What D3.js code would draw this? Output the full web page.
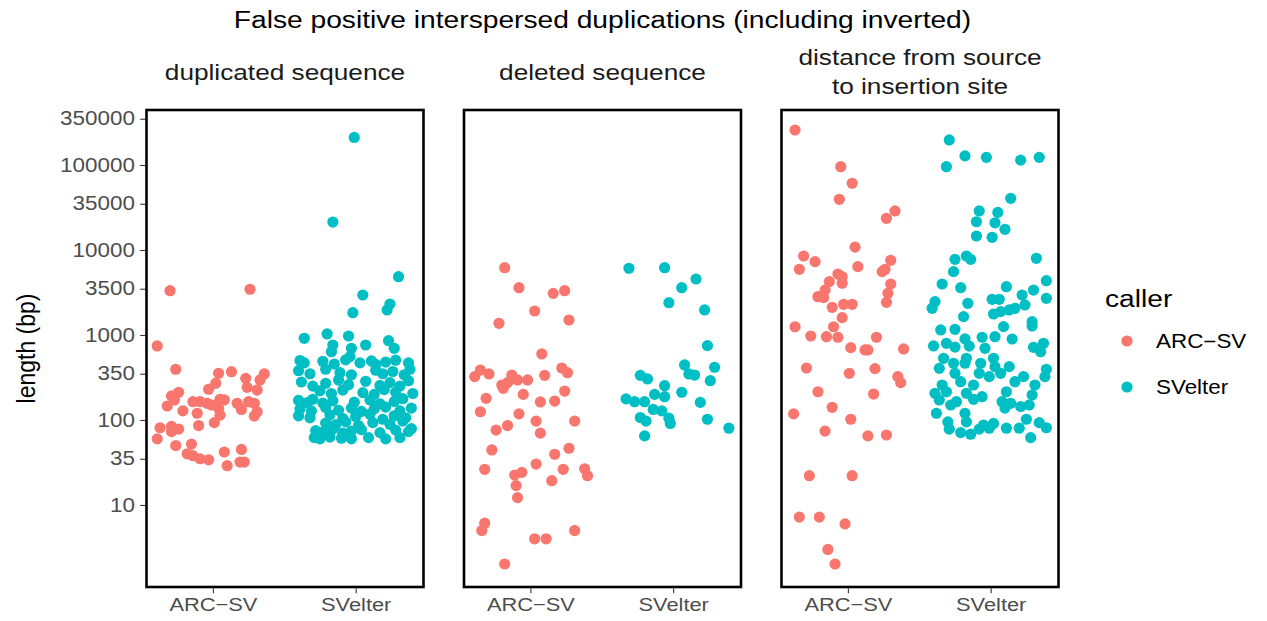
<!DOCTYPE html>
<html><head><meta charset="utf-8">
<script src="https://cdn.jsdelivr.net/npm/d3@7"></script>
<style>body{margin:0;background:#fff}</style>
</head><body><svg id="c" width="1267" height="621"></svg>
<script>
const title = "False positive interspersed duplications (including inverted)";
const facetLabels = [["duplicated sequence"], ["deleted sequence"], ["distance from source", "to insertion site"]];
const callers = ["ARC−SV", "SVelter"];
const colors = ["#F8766D", "#00BFC4"];
const yTicks = [10, 35, 100, 350, 1000, 3500, 10000, 35000, 100000, 350000];
const yTitle = "length (bp)";
const legendTitle = "caller";

// [jitter offset (category units), length in bp]
const dupARC = [[-0.30,3320],[0.26,3450],[-0.39,743],[-0.26,395],[0.04,354],[0.13,370],[0.23,309],[0.36,348],[0.33,296],[0.02,270],[-0.03,230],[0.24,242],[0.31,225],[-0.24,212],[-0.29,192],[-0.27,172],[-0.32,146],[-0.21,128],[-0.14,164],[-0.09,164],[-0.04,157],[-0.01,150],[0.05,175],[0.08,172],[0.04,137],[0.05,114],[-0.11,120],[0.01,93],[-0.10,86],[0.17,157],[0.20,133],[0.25,164],[0.29,157],[0.31,125],[0.29,111],[-0.37,81],[-0.39,60],[-0.29,84],[-0.29,73],[-0.24,78],[-0.26,50],[-0.15,52],[-0.18,40],[-0.14,38],[-0.09,35],[-0.03,34],[0.08,42],[0.20,45],[0.10,29],[0.19,32],[0.22,32]];
const dupSV = [[-0.01,211000],[-0.16,21300],[0.30,4850],[0.05,2955],[0.24,2315],[0.22,1970],[-0.02,1830],[-0.36,914],[-0.20,1028],[-0.05,973],[0.07,762],[0.23,857],[0.27,697],[-0.16,762],[-0.17,636],[-0.03,697],[-0.04,556],
[-0.39,500],[-0.36,470],[-0.23,490],[-0.15,455],[-0.07,510],[0.03,470],[0.11,495],[0.14,450],[0.21,480],[0.28,505],[0.37,470],
[-0.40,380],[-0.32,350],[-0.21,395],[-0.11,360],[-0.03,340],[0.14,385],[0.19,350],[0.26,372],[0.34,340],[0.38,395],
[-0.38,280],[-0.30,250],[-0.21,270],[-0.12,295],[-0.05,260],[0.07,285],[0.17,255],[0.24,275],[0.31,250],[0.37,290],
[-0.25,220],[-0.17,205],[-0.09,225],[0.05,210],[0.13,200],[0.20,228],[0.28,212],[0.40,205],
[-0.40,170],[-0.34,160],[-0.30,175],[-0.23,158],[-0.16,168],[-0.01,162],[0.10,172],[0.17,155],[0.27,165],[0.33,178],
[-0.39,135],[-0.31,128],[-0.21,140],[-0.12,130],[-0.03,138],[0.04,126],[0.13,135],[0.21,142],[0.31,128],[0.39,138],
[-0.40,112],[-0.32,106],[-0.18,115],[-0.09,104],[0.00,110],[0.10,117],[0.19,102],[0.27,112],[0.35,106],
[-0.21,92],[-0.14,88],[-0.07,95],[0.02,86],[0.12,93],[0.24,89],[0.33,97],
[-0.28,75],[-0.23,72],[-0.16,78],[-0.09,70],[-0.03,74],[0.04,77],[0.17,71],[0.28,76],[0.37,73],[0.39,79],
[-0.29,62],[-0.25,60],[-0.18,63],[-0.10,61],[-0.03,60],[0.09,62],[0.21,60],[0.31,62]];
const delARC = [[-0.18,6190],[-0.08,3600],[0.16,3090],[0.24,3320],[0.03,1915],[-0.22,1372],[0.27,1500],[0.08,598],[-0.35,387],[-0.39,324],[-0.29,348],[-0.13,338],[-0.09,296],[-0.20,258],[-0.16,275],[-0.19,236],[-0.02,296],[0.10,335],[0.22,409],[0.26,360],[0.24,219],[-0.05,200],[-0.31,180],[0.07,163],[0.17,167],[-0.35,125],[-0.08,118],[0.04,97],[0.31,97],[-0.16,86],[-0.24,76],[0.07,70],[-0.27,44.4],[0.27,46.5],[0.17,39.5],[-0.32,26.3],[0.04,30.3],[0.23,26.3],[0.38,26.7],[0.40,22.1],[-0.11,22.5],[-0.06,24.2],[-0.10,16.9],[-0.09,12.2],[0.15,19.3],[-0.32,6.1],[-0.34,5.0],[0.03,4.0],[0.11,4.0],[0.31,5.0],[-0.18,2.02]];
const delSV = [[-0.31,6090],[-0.06,6190],[0.16,4560],[0.06,3600],[-0.03,2400],[0.22,1970],[0.24,750],[0.08,444],[0.29,417],[0.11,348],[0.15,338],[0.26,290],[-0.23,335],[-0.18,304],[-0.06,253],[-0.13,200],[-0.06,188],[0.06,212],[-0.33,177],[-0.27,164],[-0.20,164],[0.19,161],[-0.14,133],[-0.08,128],[-0.23,107],[-0.19,97],[-0.03,105],[-0.02,91],[0.24,102],[0.39,80],[-0.20,65]];
const distARC = [[-0.37,258000],[-0.05,95500],[0.03,61000],[-0.06,39500],[0.33,28800],[0.27,23600],[0.05,10800],[-0.31,8500],[-0.23,7290],[-0.34,5930],[0.07,6370],[0.30,7560],[0.26,5930],[0.24,5560],[-0.07,5220],[-0.04,4850],[-0.13,4240],[-0.04,4060],[0.30,3980],[-0.16,3380],[0.28,3090],[-0.21,2820],[-0.17,2750],[0.27,2420],[-0.11,2115],[-0.03,2295],[0.03,2295],[-0.04,1600],[-0.37,1250],[-0.10,1250],[-0.26,973],[-0.15,955],[-0.07,940],[0.20,940],[0.02,710],[0.12,667],[0.14,667],[0.39,685],[-0.29,409],[0.01,354],[0.19,402],[0.35,324],[0.37,275],[-0.21,215],[0.18,202],[-0.38,118],[-0.11,141],[0.02,102],[-0.16,74],[0.14,65],[0.27,66.6],[-0.27,22.1],[0.03,22.1],[-0.34,7.2],[-0.20,7.2],[-0.02,6.0],[-0.14,3.0],[-0.09,2.02]];
const distSV = [[-0.29,197000],[-0.18,128000],[-0.31,95500],[-0.03,123000],[0.21,114000],[0.34,123000],[0.14,40500],[-0.08,28800],[-0.10,21500],[0.05,27700],[0.03,20900],[0.10,17500],[-0.10,14600],[0.01,14100],[-0.25,7760],[-0.17,8500],[-0.14,7760],[-0.26,5560],[0.32,7980],[-0.34,3980],[-0.21,3600],[0.11,3700],[0.39,4350],[0.30,3380],[0.22,2955],[0.39,2700],[-0.39,2465],[-0.41,2060],[-0.16,2360],[0.01,2630],[0.06,2630],[0.02,1765],[0.07,1885],[0.13,1970],[0.17,2060],[0.24,2255],[-0.19,1645],[0.29,1437],[0.29,1276],[0.09,1253],[-0.35,1146],[-0.25,1167],[0.15,897],[-0.06,940],[0.03,955],[-0.40,743],[0.37,798],[0.30,716],[0.35,636],[-0.31,798],[-0.25,720],[-0.18,900],[-0.15,740],[-0.04,697],[-0.33,532],[-0.26,465],[-0.18,465],[-0.17,532],[-0.07,465],[0.02,532],[0.03,424],[0.13,424],[-0.36,405],[0.39,395],[0.38,324],[-0.25,354],[-0.21,282],[-0.08,354],[-0.01,324],[0.07,354],[0.17,282],[0.23,324],[-0.34,258],[0.31,258],[-0.12,258],[-0.39,206],[-0.31,215],[-0.17,206],[-0.06,188],[0.11,215],[0.29,197],[-0.36,172],[-0.28,150],[-0.24,164],[-0.12,175],[0.08,164],[0.14,157],[0.21,144],[0.27,150],[0.10,138],[-0.38,120],[-0.30,95],[-0.18,120],[-0.17,95],[-0.29,78],[-0.21,71],[-0.14,68],[-0.08,78],[-0.05,87],[0.02,91],[-0.01,80],[0.11,80],[0.20,80],[0.25,102],[0.34,93],[0.39,81],[0.28,62]];
const panelData = [[dupARC, dupSV], [delARC, delSV], [distARC, distSV]];

const FONT = "'Liberation Sans', Arial, Helvetica, sans-serif";
const SX = 1.15;
const panelW = 277, panelTop = 110, panelBottom = 587, panelLeft0 = 146.5, panelStep = 317.5;
const svg = d3.select("#c");
svg.append("rect").attr("width", 1267).attr("height", 621).attr("fill", "#fff");

const y = d3.scaleLog().domain([Math.pow(10, 0.035), Math.pow(10, 5.647)]).range([panelBottom, panelTop]);
const x = d3.scaleLinear().domain([0.535, 2.475]).range([0, panelW]);

function txt(g, px, py, s, size, anchor, color) {
  return g.append("text")
    .attr("transform", `translate(${px},${py}) scale(${SX},1)`)
    .attr("text-anchor", anchor).attr("font-family", FONT)
    .attr("font-size", size).attr("fill", color).text(s);
}

// title
txt(svg, panelLeft0 + (2 * panelStep + panelW) / 2, 28, title, 24.5, "middle", "#000");

panelData.forEach((groups, pi) => {
  const left = panelLeft0 + pi * panelStep;
  const g = svg.append("g").attr("transform", `translate(${left},0)`);
  const lines = facetLabels[pi];
  if (lines.length === 1) {
    txt(g, panelW / 2, 80, lines[0], 22.8, "middle", "#1a1a1a");
  } else {
    lines.forEach((l, li) => txt(g, panelW / 2, 65 + li * 29, l, 22.8, "middle", "#1a1a1a"));
  }
  groups.forEach((arr, ci) => {
    g.append("g").selectAll("circle").data(arr).join("circle")
      .attr("cx", d => x(ci + 1 + d[0]))
      .attr("cy", d => y(d[1]))
      .attr("r", 5.6)
      .attr("fill", colors[ci]);
  });
  g.append("rect").attr("x", 0).attr("y", panelTop).attr("width", panelW)
    .attr("height", panelBottom - panelTop).attr("fill", "none")
    .attr("stroke", "#000").attr("stroke-width", 2.6);
  const xa = g.append("g").attr("transform", `translate(0,${panelBottom + 1.3})`)
    .call(d3.axisBottom(x).tickValues([1, 2]).tickFormat(d => callers[d - 1]).tickSize(5).tickPadding(4));
  xa.select(".domain").remove();
  xa.selectAll("line").attr("stroke", "#333").attr("stroke-width", 1.1);
  xa.selectAll("text").attr("font-family", FONT).attr("font-size", 19).attr("fill", "#4D4D4D")
    .attr("transform", `scale(${SX},1)`);
});

const ya = svg.append("g").attr("transform", `translate(${panelLeft0 - 1.3},0)`)
  .call(d3.axisLeft(y).tickValues(yTicks).tickFormat(d3.format("d")).tickSize(5).tickPadding(4));
ya.select(".domain").remove();
ya.selectAll("line").attr("stroke", "#333").attr("stroke-width", 1.1);
ya.selectAll("text").attr("font-family", FONT).attr("font-size", 19.5).attr("fill", "#4D4D4D")
  .attr("transform", `scale(${SX},1)`);

svg.append("text").attr("transform", `translate(35,${(panelTop + panelBottom) / 2}) rotate(-90) scale(1,${SX})`)
  .attr("text-anchor", "middle").attr("font-family", FONT).attr("font-size", 23).attr("fill", "#000").text(yTitle);

const lg = svg.append("g");
txt(lg, 1105, 307, legendTitle, 24.5, "start", "#000");
callers.forEach((c, i) => {
  lg.append("circle").attr("cx", 1127).attr("cy", 341 + i * 46).attr("r", 5.6).attr("fill", colors[i]);
  txt(lg, 1156, 348 + i * 46, c, 19.5, "start", "#000");
});
</script></body></html>
